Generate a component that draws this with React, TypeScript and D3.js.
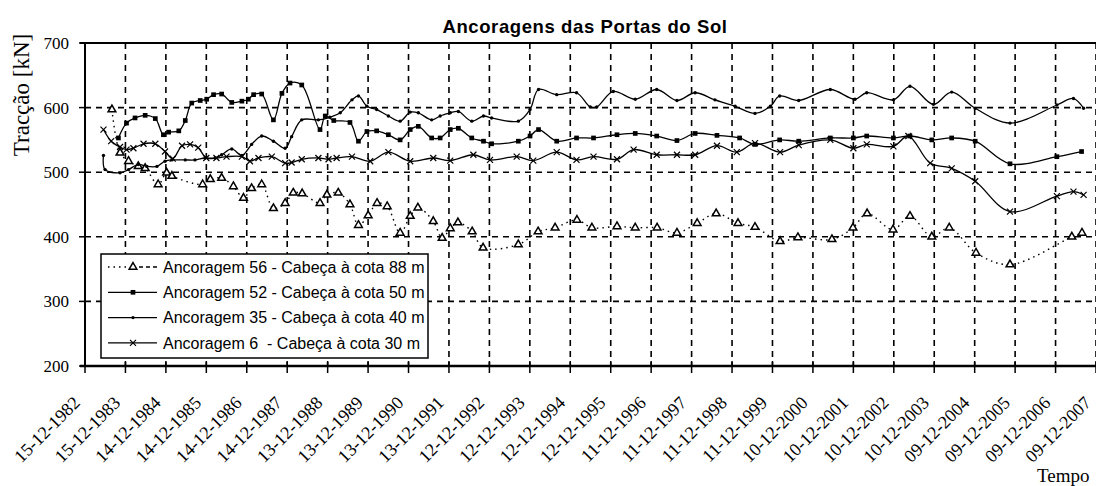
import { useEffect, useRef } from "react";
import * as d3 from "d3";

// x axis labels (one every 365 days)
const tickLabels = [
  "15-12-1982", "15-12-1983", "14-12-1984", "14-12-1985", "14-12-1986", "14-12-1987",
  "13-12-1988", "13-12-1989", "13-12-1990", "13-12-1991", "12-12-1992", "12-12-1993",
  "12-12-1994", "12-12-1995", "11-12-1996", "11-12-1997", "11-12-1998", "11-12-1999",
  "10-12-2000", "10-12-2001", "10-12-2002", "10-12-2003", "09-12-2004", "09-12-2005",
  "09-12-2006", "09-12-2007",
];
const yTicks = [200, 300, 400, 500, 600, 700];

// Ancoragem 56 - dotted, triangles (decimal years)
const anc56Dates = [
  1983.62, 1983.82, 1984.03, 1984.27, 1984.44, 1984.76, 1984.97, 1985.1, 1985.86, 1986.05,
  1986.33, 1986.62, 1986.87, 1987.07, 1987.32, 1987.61, 1987.9, 1988.1, 1988.32, 1988.76,
  1988.93, 1989.21, 1989.5, 1989.71, 1989.95, 1990.17, 1990.42, 1990.74, 1990.99, 1991.18,
  1991.56, 1991.78, 1991.98, 1992.17, 1992.52, 1992.79, 1993.66, 1994.15, 1994.57, 1995.11,
  1995.48, 1996.1, 1996.55, 1997.09, 1997.58, 1998.08, 1998.55, 1999.09, 1999.51, 2000.13,
  2000.57, 2001.41, 2001.93, 2002.28, 2002.92, 2003.34, 2003.88, 2004.31, 2004.97, 2005.81,
  2007.34, 2007.59,
];
const anc56Values = [
  597, 530, 517, 509, 506, 481, 499, 494, 481, 489,
  491, 478, 460, 475, 481, 444, 452, 468, 467, 452,
  465, 468, 450, 418, 433, 452, 447, 406, 432, 445,
  424, 398, 413, 422, 408, 383, 388, 408, 414, 426,
  414, 416, 414, 414, 406, 421, 436, 421, 415, 393,
  399, 396, 414, 436, 411, 432, 400, 414, 375, 357,
  400, 406,
];

// Ancoragem 52 - solid, squares
const anc52Dates = [
  1983.78, 1983.98, 1984.19, 1984.44, 1984.69, 1984.89, 1985.02, 1985.27, 1985.43, 1985.59,
  1985.8, 1985.96, 1986.13, 1986.33, 1986.58, 1986.83, 1986.99, 1987.12, 1987.32, 1987.61,
  1987.82, 1988.02, 1988.31, 1988.76, 1988.89, 1989.1, 1989.5, 1989.71, 1989.92, 1990.16,
  1990.45, 1990.74, 1990.99, 1991.19, 1991.52, 1991.73, 1991.98, 1992.18, 1992.51, 1992.8,
  1993.0, 1993.66, 1993.95, 1994.16, 1994.61, 1995.1, 1995.52, 1996.1, 1996.55, 1997.08,
  1997.58, 1998.03, 1998.57, 1999.13, 1999.51, 2000.12, 2000.59, 2001.37, 2001.94, 2002.27,
  2002.93, 2003.34, 2003.88, 2004.37, 2004.95, 2005.81, 2006.97, 2007.58,
];
const anc52Values = [
  553, 576, 584, 588, 583, 558, 562, 564, 580, 607,
  611, 613, 620, 621, 608, 610, 613, 620, 621, 581,
  622, 638, 635, 566, 587, 580, 577, 548, 563, 564,
  558, 550, 566, 571, 553, 553, 566, 568, 553, 548,
  544, 548, 556, 566, 548, 553, 553, 558, 560, 556,
  549, 560, 557, 553, 543, 550, 548, 553, 553, 556,
  553, 556, 550, 553, 548, 513, 524, 532,
];

// Ancoragem 35 - solid, small dots
const anc35Dates = [
  1983.41, 1983.45, 1983.82, 1984.03, 1984.27, 1984.48, 1984.73, 1984.93, 1985.1, 1985.43,
  1985.67, 1985.92, 1986.17, 1986.33, 1986.58, 1986.83, 1987.07, 1987.32, 1987.61, 1987.9,
  1988.06, 1988.31, 1988.72, 1989.0, 1989.26, 1989.55, 1989.71, 1989.92, 1990.16, 1990.45,
  1990.74, 1990.99, 1991.19, 1991.52, 1991.73, 1991.98, 1992.18, 1992.51, 1992.8, 1993.0,
  1993.66, 1993.95, 1994.16, 1994.61, 1995.1, 1995.44, 1995.6, 1996.01, 1996.55, 1997.08,
  1997.58, 1998.03, 1998.52, 1999.02, 1999.51, 1999.89, 2000.12, 2000.59, 2001.37, 2001.98,
  2002.27, 2002.93, 2003.34, 2003.92, 2004.37, 2004.95, 2005.81, 2006.97, 2007.38, 2007.63,
];
const anc35Values = [
  526, 504, 499, 504, 512, 509, 509, 517, 519, 519,
  519, 522, 522, 527, 536, 526, 543, 556, 548, 537,
  555, 581, 581, 585, 592, 612, 618, 602, 597, 587,
  579, 593, 592, 581, 587, 592, 594, 579, 587, 584,
  579, 597, 628, 620, 623, 601, 601, 625, 613, 628,
  611, 623, 612, 602, 591, 602, 618, 611, 628, 613,
  623, 612, 633, 605, 624, 599, 576, 604, 614, 599,
];

// Ancoragem 6 - solid, crosses
const anc6Dates = [
  1983.41, 1983.6, 1983.82, 1983.98, 1984.15, 1984.4, 1984.69, 1984.93, 1985.12, 1985.35,
  1985.55, 1985.75, 1985.95, 1986.2, 1986.45, 1986.83, 1987.03, 1987.24, 1987.57, 1987.9,
  1988.06, 1988.31, 1988.72, 1988.97, 1989.17, 1989.55, 1990.0, 1990.45, 1990.99, 1991.56,
  1991.98, 1992.55, 1992.96, 1993.62, 1994.03, 1994.61, 1995.1, 1995.52, 1996.1, 1996.51,
  1997.08, 1997.58, 1998.03, 1998.57, 1999.06, 1999.51, 2000.13, 2000.59, 2001.37, 2001.94,
  2002.27, 2002.93, 2003.3, 2003.84, 2004.37, 2004.95, 2005.81, 2006.97, 2007.38, 2007.63,
];
const anc6Values = [
  566, 548, 539, 535, 537, 544, 544, 532, 521, 541,
  543, 538, 522, 522, 524, 524, 517, 522, 524, 514,
  515, 520, 522, 520, 522, 524, 517, 531, 517, 522,
  518, 527, 519, 524, 518, 531, 519, 524, 520, 535,
  527, 527, 527, 541, 531, 545, 531, 542, 550, 537,
  543, 540, 556, 514, 506, 486, 439, 463, 470, 465,
];

const legendLabels = [
  "Ancoragem 56 - Cabeça à cota 88 m",
  "Ancoragem 52 - Cabeça à cota 50 m",
  "Ancoragem 35 - Cabeça à cota 40 m",
  "Ancoragem 6  - Cabeça à cota 30 m",
];

const yearToDate = (y: number) => {
  const yr = Math.floor(y);
  const start = Date.UTC(yr, 0, 1);
  const end = Date.UTC(yr + 1, 0, 1);
  return new Date(start + (y - yr) * (end - start));
};

const App = () => {
  const svgRef = useRef<SVGSVGElement>(null);

  useEffect(() => {
    const W = 1096, H = 486;
    const left = 85, right = 1096, top = 43, bottom = 366;
    const svg = d3.select(svgRef.current);
    svg.selectAll("*").remove();

    svg.append("rect").attr("width", W).attr("height", H).attr("fill", "#fff");

    const parse = d3.utcParse("%d-%m-%Y");
    const tickDates = tickLabels.map((s) => parse(s) as Date);

    const x = d3.scaleUtc().domain([tickDates[0], tickDates[tickDates.length - 1]]).range([left, right]);
    const y = d3.scaleLinear().domain([200, 700]).range([bottom, top]);

    const serif = "'Liberation Serif', 'Times New Roman', serif";
    const sans = "'Liberation Sans', Arial, sans-serif";

    // grid
    const grid = svg.append("g").attr("stroke", "#000").attr("stroke-width", 1.6).attr("stroke-dasharray", "6,5");
    grid.selectAll(".hg").data(yTicks.filter((v) => v > 200 && v < 700)).enter().append("line")
      .attr("x1", left).attr("x2", right).attr("y1", (d) => y(d)).attr("y2", (d) => y(d));
    grid.selectAll(".vg").data(tickDates.slice(1)).enter().append("line")
      .attr("x1", (d) => x(d)).attr("x2", (d) => x(d)).attr("y1", top).attr("y2", bottom);

    // frame / axes
    svg.append("line").attr("x1", 80).attr("x2", right).attr("y1", top).attr("y2", top)
      .attr("stroke", "#000").attr("stroke-width", 2);
    svg.append("line").attr("x1", left).attr("x2", left).attr("y1", top).attr("y2", bottom)
      .attr("stroke", "#000").attr("stroke-width", 2);
    svg.append("line").attr("x1", 80).attr("x2", right).attr("y1", bottom).attr("y2", bottom)
      .attr("stroke", "#000").attr("stroke-width", 2.5);

    svg.append("g").selectAll("line").data(yTicks).enter().append("line")
      .attr("x1", 79).attr("x2", left).attr("y1", (d) => y(d)).attr("y2", (d) => y(d))
      .attr("stroke", "#000").attr("stroke-width", 1.5);
    svg.append("g").selectAll("line").data(tickDates).enter().append("line")
      .attr("x1", (d) => x(d)).attr("x2", (d) => x(d)).attr("y1", bottom - 5).attr("y2", bottom + 7)
      .attr("stroke", "#000").attr("stroke-width", 1.5);

    svg.append("g").selectAll("text").data(yTicks).enter().append("text")
      .attr("x", 69).attr("y", (d) => y(d)).attr("dy", "0.35em").attr("text-anchor", "end")
      .attr("font-family", serif).attr("font-size", 17).text((d) => d);

    svg.append("g").selectAll("text").data(tickLabels).enter().append("text")
      .attr("transform", (d, i) => `translate(${x(tickDates[i]) - 4},${bottom + 38}) rotate(-45)`)
      .attr("text-anchor", "end")
      .attr("font-family", serif).attr("font-size", 18).text((d) => d);

    // series
    const line = (dates: number[], vals: number[]) =>
      d3.line<number>().x((d, i) => x(yearToDate(dates[i]))).y((d) => y(d))
        .curve(d3.curveCatmullRom.alpha(0.5))(vals);

    const plot = svg.append("g");
    plot.append("path").attr("d", line(anc56Dates, anc56Values)).attr("fill", "none")
      .attr("stroke", "#000").attr("stroke-width", 1.4).attr("stroke-dasharray", "1.5,4");
    plot.append("path").attr("d", line(anc52Dates, anc52Values)).attr("fill", "none")
      .attr("stroke", "#000").attr("stroke-width", 1.3);
    plot.append("path").attr("d", line(anc35Dates, anc35Values)).attr("fill", "none")
      .attr("stroke", "#000").attr("stroke-width", 1.3);
    plot.append("path").attr("d", line(anc6Dates, anc6Values)).attr("fill", "none")
      .attr("stroke", "#000").attr("stroke-width", 1.3);

    const tri = d3.symbol(d3.symbolTriangle, 26)();
    const sq = d3.symbol(d3.symbolSquare, 22)();
    const dot = d3.symbol(d3.symbolCircle, 9)();
    const cross = "M-3,-3L3,3M-3,3L3,-3";

    const styleMarker = (sel: any, kind: string) => {
      if (kind === "tri") sel.attr("d", tri).attr("fill", "#fff").attr("stroke", "#000").attr("stroke-width", 1.5);
      if (kind === "sq") sel.attr("d", sq).attr("fill", "#000");
      if (kind === "dot") sel.attr("d", dot).attr("fill", "#000");
      if (kind === "x") sel.attr("d", cross).attr("fill", "none").attr("stroke", "#000").attr("stroke-width", 1.2);
    };

    const drawMarkers = (dates: number[], vals: number[], kind: string) => {
      const sel = plot.append("g").selectAll("path").data(vals).enter().append("path")
        .attr("transform", (d, i) => `translate(${x(yearToDate(dates[i]))},${y(d)})`);
      styleMarker(sel, kind);
    };
    drawMarkers(anc56Dates, anc56Values, "tri");
    drawMarkers(anc52Dates, anc52Values, "sq");
    drawMarkers(anc35Dates, anc35Values, "dot");
    drawMarkers(anc6Dates, anc6Values, "x");

    // legend
    const lg = svg.append("g");
    lg.append("rect").attr("x", 101).attr("y", 254).attr("width", 327).attr("height", 104)
      .attr("fill", "#fff").attr("stroke", "#000").attr("stroke-width", 1.5);
    const kinds = ["tri", "sq", "dot", "x"];
    legendLabels.forEach((lab, i) => {
      const cy = 267 + i * 25.3;
      if (i === 0) {
        lg.append("line").attr("x1", 108).attr("x2", 128).attr("y1", cy).attr("y2", cy)
          .attr("stroke", "#000").attr("stroke-width", 1.4).attr("stroke-dasharray", "1.5,4");
        lg.append("line").attr("x1", 139).attr("x2", 158).attr("y1", cy).attr("y2", cy)
          .attr("stroke", "#000").attr("stroke-width", 1.3).attr("stroke-dasharray", "4,3");
      } else {
        lg.append("line").attr("x1", 108).attr("x2", 157).attr("y1", cy).attr("y2", cy)
          .attr("stroke", "#000").attr("stroke-width", 1.3);
      }
      styleMarker(lg.append("path").attr("transform", `translate(133,${cy})`), kinds[i]);
      lg.append("text").attr("x", 163).attr("y", cy).attr("dy", "0.36em")
        .attr("font-family", sans).attr("font-size", 16).style("white-space", "pre").text(lab);
    });

    // titles
    svg.append("text").attr("x", 585).attr("y", 33).attr("text-anchor", "middle")
      .attr("font-family", sans).attr("font-weight", "bold").attr("font-size", 18.5)
      .attr("letter-spacing", 0.6).text("Ancoragens das Portas do Sol");
    svg.append("text").attr("transform", "translate(29,95) rotate(-90)").attr("text-anchor", "middle")
      .attr("font-family", serif).attr("font-size", 23).text("Tracção [kN]");
    svg.append("text").attr("x", 1037).attr("y", 482)
      .attr("font-family", serif).attr("font-size", 19).text("Tempo");
  }, []);

  return (
    <svg ref={svgRef} width={1096} height={486}
      style={{ position: "absolute", left: 0, top: 0, display: "block" }} />
  );
};

export default App;
